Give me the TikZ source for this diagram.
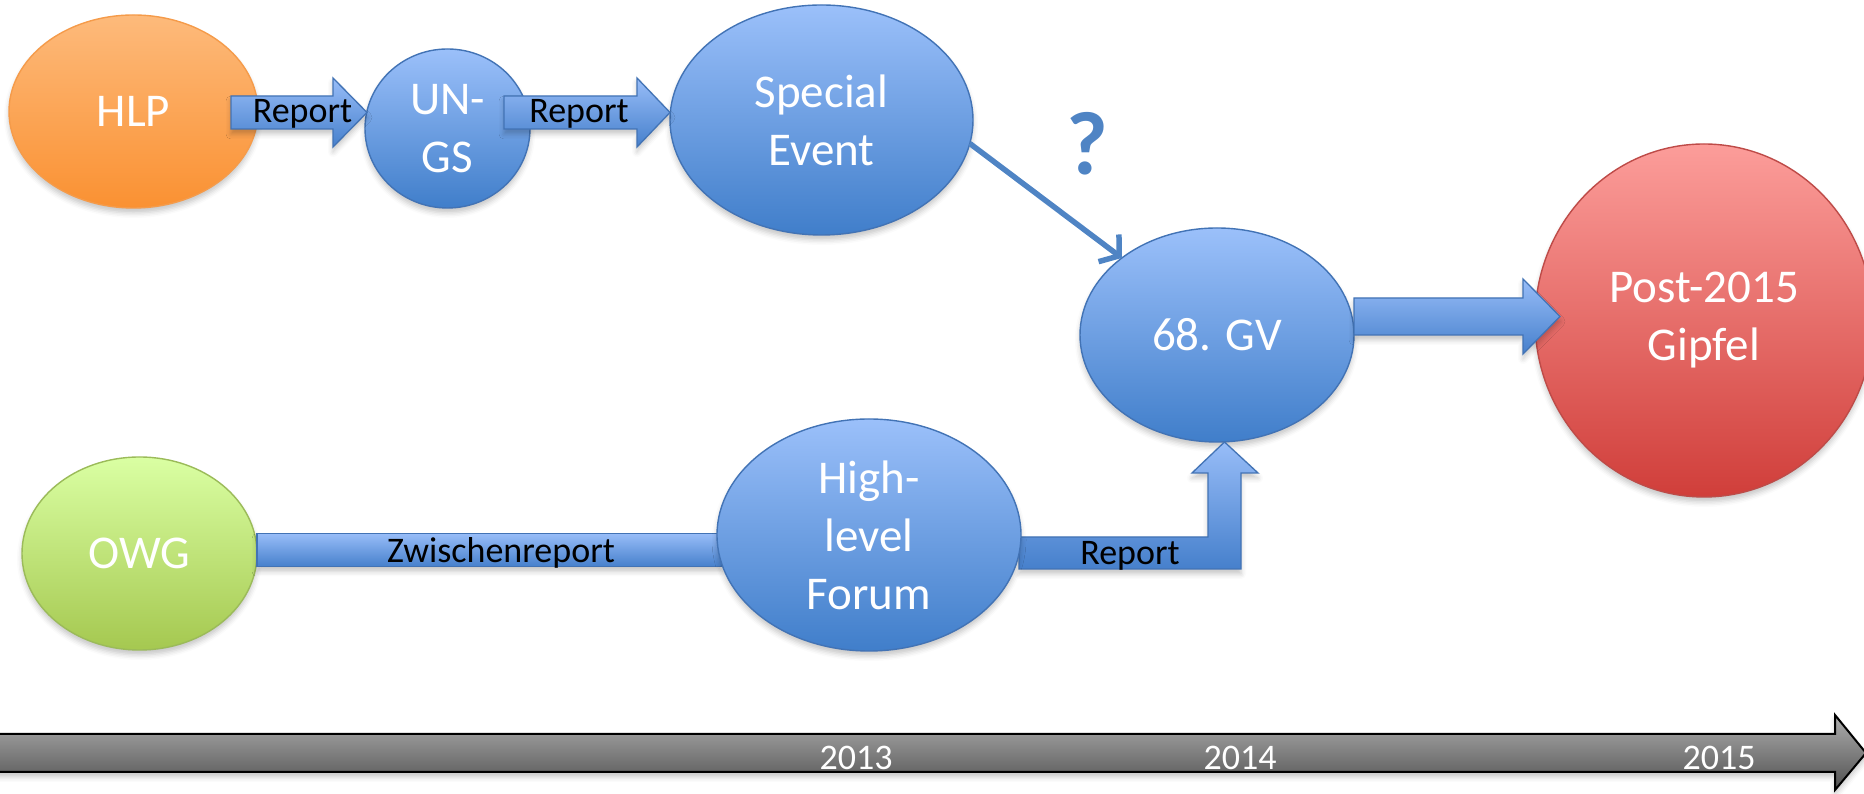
\documentclass[tikz,border=0pt]{standalone}
\usepackage{fontspec}
\setmainfont{Carlito}
\usetikzlibrary{shapes.geometric,arrows.meta,calc,shadows.blur}
\definecolor{bluetop}{HTML}{9BC0FA}
\definecolor{bluebot}{HTML}{407ECA}
\definecolor{blueline}{HTML}{4273B5}
\definecolor{arrtop}{HTML}{98BDF8}
\definecolor{arrbot}{HTML}{4680CC}
\definecolor{orgtop}{HTML}{FDBA7B}
\definecolor{orgbot}{HTML}{FA9132}
\definecolor{orgline}{HTML}{F59B4A}
\definecolor{grntop}{HTML}{DAFFA3}
\definecolor{grnbot}{HTML}{A5C850}
\definecolor{grnline}{HTML}{9BBB59}
\definecolor{redtop}{HTML}{FC9D9A}
\definecolor{redbot}{HTML}{D03E3A}
\definecolor{redline}{HTML}{BE4B48}
\definecolor{qblue}{HTML}{4F84C4}
\definecolor{tltop}{HTML}{AEAEAE}
\definecolor{tlbot}{HTML}{505050}
\tikzset{
  shad/.style={blur shadow={shadow xshift=0pt,shadow yshift=-5pt,shadow blur radius=5pt,shadow opacity=22}},
  ell/.style={ellipse,inner sep=0pt,outer sep=0pt,text=white,align=center,
    font=\fontsize{47}{58}\selectfont,line width=1.4pt,shad},
  bluenode/.style={ell,draw=blueline,top color=bluetop,bottom color=bluebot},
  orgnode/.style={ell,draw=orgline,top color=orgtop,bottom color=orgbot},
  grnnode/.style={ell,draw=grnline,top color=grntop,bottom color=grnbot},
  rednode/.style={ell,draw=redline,top color=redtop,bottom color=redbot},
  barrow/.style={draw=blueline,line width=1.3pt,top color=arrtop,bottom color=arrbot,line join=miter,shad},
  lab/.style={text=black,font=\fontsize{36}{40}\selectfont,anchor=base,inner sep=0pt},
  year/.style={text=white,font=\fontsize{36}{40}\selectfont,anchor=base,inner sep=0pt},
  thinarr/.style={draw=qblue,line width=5.5pt,-{Straight Barb[length=13pt,width=34pt]}},
}
% horizontal block arrow: start, tip, half shaft, half head, head length
\newcommand\hblockarrow[5]{%
  \path[barrow] let \p1=(#1), \p2=(#2) in
    (\x1,\y2+#3) -- (\x2-#5,\y2+#3) -- (\x2-#5,\y2+#4) -- (\x2,\y2)
    -- (\x2-#5,\y2-#4) -- (\x2-#5,\y2-#3) -- (\x1,\y2-#3) -- cycle;}
\begin{document}
\begin{tikzpicture}[x=1pt,y=1pt]
\useasboundingbox (0,0) rectangle (1864,794);
\clip (0,0) rectangle (1864,794);

% nodes of the upper row and the target nodes
\node[orgnode,minimum width=249pt,minimum height=193pt] (HLP) at (133.5,682.5) {HLP};
\node[bluenode,minimum width=165pt,minimum height=159pt] (UNGS) at (447.5,665.5) {UN-\\GS};
\node[bluenode,minimum width=303pt,minimum height=230pt] (SE) at (821.5,674) {Special\\Event};
\node[bluenode,minimum width=274pt,minimum height=214pt] (GV) at (1217,459) {68. GV};
\node[rednode,minimum width=338pt,minimum height=353pt] (Post) at (1704,473.5) {Post-2015\\Gipfel};
\node[grnnode,minimum width=235pt,minimum height=193pt] (OWG) at (139.5,240.5) {OWG};

% bars that run behind the High-level Forum node
\coordinate (hlfw) at (722,244);
\coordinate (hlfe) at (1019,257);
\path[barrow] let \p1=(OWG.east), \p2=(hlfw) in
  (\x1,\y2-16.5pt) rectangle (\x2,\y2+16.5pt);
\path[barrow] let \p1=(hlfe), \p2=(GV.south) in
  (\x1,\y1) -- (\x2-9pt,\y1) -- (\x2-9pt,\y2-31pt) -- (\x2-25pt,\y2-31pt)
  -- (\x2+7.5pt,\y2) -- (\x2+41pt,\y2-31pt) -- (\x2+24pt,\y2-31pt)
  -- (\x2+24pt,\y1-32pt) -- (\x1,\y1-32pt) -- cycle;

\node[bluenode,minimum width=304pt,minimum height=232pt] (HLF) at (869,259) {High-\\level\\Forum};

% block arrows on top
\coordinate (a1s) at ($(HLP.east)+(-27,-1)$);
\coordinate (a1t) at ($(UNGS.west |- a1s)+(2,0)$);
\hblockarrow{a1s}{a1t}{16.5pt}{34.5pt}{34pt}
\coordinate (a2s) at ($(UNGS.east |- a1s)+(-26,0)$);
\coordinate (a2t) at (SE.west |- a1s);
\hblockarrow{a2s}{a2t}{16.5pt}{34.5pt}{33pt}
\coordinate (a3s) at ($(GV.east)+(0,18.5)$);
\coordinate (a3t) at ($(Post.west |- a3s)+(25,0)$);
\hblockarrow{a3s}{a3t}{18.5pt}{37.5pt}{37pt}

% thin arrow and question mark
\draw[thinarr] (SE.-9) -- (GV.141);
\node[text=qblue,font=\fontsize{90}{90}\selectfont\bfseries,inner sep=0pt] (q) at (1087,650) {?};

% labels
\node[lab] (r1) at (302.5,671) {Report};
\node[lab] (r2) at (579,671) {Report};
\node[lab] (r3) at (1130,229) {Report};
\node[lab] (zw) at (501,231) {Zwischenreport};

% timeline
\path[draw=black,line width=2pt,top color=tltop,bottom color=tlbot,line join=miter,shad]
  (-5,60) -- (1835,60) -- (1835,79) -- (1866,41) -- (1835,4) -- (1835,22) -- (-5,22) -- cycle;
\node[year] (y13) at (856,24) {2013};
\node[year] (y14) at (1240,24) {2014};
\node[year] (y15) at (1719,24) {2015};
\end{tikzpicture}
\end{document}
